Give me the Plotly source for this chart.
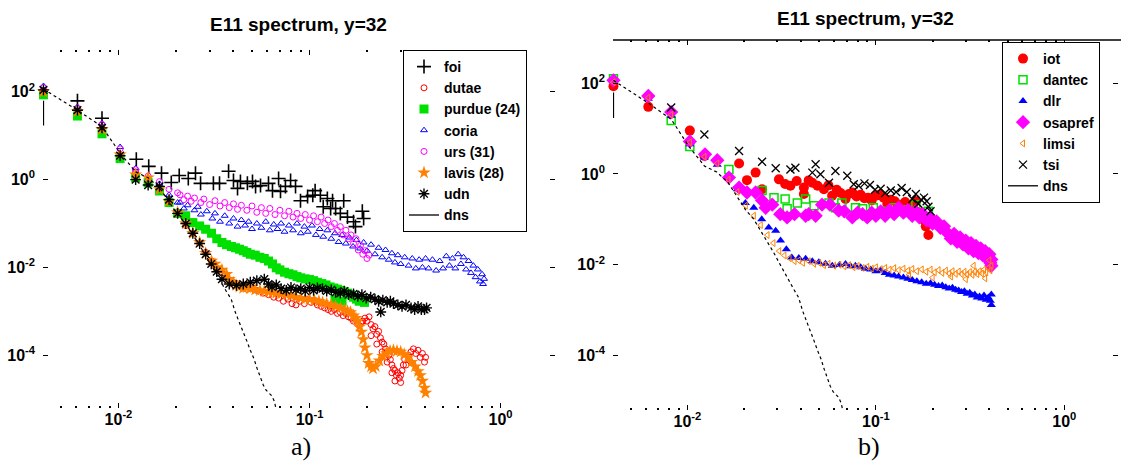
import plotly.graph_objects as go

# ---------------- left panel (a) ----------------
foi_k = [0.0061, 0.0082, 0.0124, 0.0144, 0.0168, 0.0189, 0.0208, 0.0232, 0.0253, 0.0269, 0.0314, 0.0338,
         0.0377, 0.0400, 0.0420, 0.0435, 0.0473, 0.0503, 0.0522, 0.0554, 0.0610, 0.0640, 0.0689, 0.0705,
         0.0748, 0.0796, 0.0845, 0.0897, 0.0977, 0.104, 0.107, 0.114, 0.118, 0.124, 0.129, 0.132, 0.137,
         0.145, 0.151, 0.158, 0.170, 0.174, 0.189, 0.192]
foi_E = [62, 25, 2.9, 2.0, 1.4, 0.86, 1.24, 1.06, 1.4, 0.82, 0.82, 0.82,
         1.55, 0.95, 0.63, 0.91, 0.82, 0.91, 0.70, 0.73, 0.82, 0.56, 1.06, 0.54,
         0.70, 0.95, 0.70, 0.33, 0.41, 0.44, 0.56, 0.44, 0.24, 0.37, 0.22, 0.33, 0.22,
         0.17, 0.33, 0.14, 0.11, 0.085, 0.19, 0.13]
bar_k = [0.00405, 0.00405]
bar_E = [62, 17]

dutae_k = [0.00405, 0.0061, 0.0082, 0.0102, 0.0123, 0.0143, 0.0164, 0.0184, 0.0204, 0.0225, 0.0245, 0.0266,
           0.0286, 0.0307, 0.0327, 0.0348, 0.0368, 0.039, 0.041, 0.045, 0.049, 0.053, 0.057, 0.061, 0.065,
           0.069, 0.073, 0.077, 0.081, 0.085, 0.089, 0.094, 0.098, 0.102, 0.106, 0.110, 0.115, 0.12, 0.125,
           0.13, 0.135, 0.14, 0.145, 0.15, 0.155, 0.16, 0.165, 0.17, 0.175, 0.18, 0.185, 0.19, 0.195, 0.20,
           0.205, 0.21, 0.215, 0.22, 0.225, 0.23, 0.235, 0.24, 0.245, 0.25, 0.255, 0.26, 0.265, 0.27, 0.275,
           0.28, 0.285, 0.29, 0.295, 0.30, 0.305, 0.31, 0.315, 0.32, 0.33, 0.34, 0.35, 0.36, 0.37, 0.38,
           0.39, 0.40, 0.405, 0.21, 0.225, 0.24, 0.255, 0.27, 0.28, 0.30]
dutae_E = [108, 33, 15, 3.6, 1.5, 0.95, 0.55, 0.3, 0.16, 0.09, 0.06, 0.036,
           0.022, 0.014, 0.0095, 0.0075, 0.0058, 0.005, 0.0044, 0.0040, 0.0034, 0.0030, 0.0026, 0.0024, 0.0021,
           0.0020, 0.0017, 0.0019, 0.0015, 0.0014, 0.0017, 0.0015, 0.0019, 0.0016, 0.0018, 0.0014, 0.0013, 0.0012, 0.0011,
           0.0010, 0.0011, 0.0009, 0.00095, 0.0008, 0.0009, 0.00075, 0.0007, 0.0006, 0.00065, 0.0005, 0.00055, 0.0006, 0.0007, 0.0006,
           0.00075, 0.0005, 0.0004, 0.00045, 0.0003, 0.00035, 0.00025, 0.0002, 0.00018, 0.00014, 0.00012, 0.0001, 8e-5, 6e-5, 5e-5,
           4.5e-5, 3.5e-5, 4e-5, 3e-5, 3.5e-5, 4.5e-5, 6e-5, 8e-5, 6e-5, 1e-4, 1.2e-4, 1.4e-4, 1.1e-4, 1.3e-4, 9e-5,
           1.1e-4, 7e-5, 9e-5, 0.00028, 0.00018, 0.00012, 7e-5, 4e-5, 2.6e-5, 2.4e-5]

purdue_k = [0.00405, 0.0061, 0.0082, 0.0102, 0.0123, 0.0143, 0.0164, 0.0184, 0.0204, 0.0225, 0.0245, 0.0266,
            0.0286, 0.0307, 0.0327, 0.0348, 0.0368, 0.039, 0.041, 0.043, 0.045, 0.047, 0.049, 0.052, 0.055,
            0.058, 0.061, 0.064, 0.067, 0.070, 0.074, 0.078, 0.082, 0.086, 0.090, 0.095, 0.100, 0.105, 0.110,
            0.116, 0.122, 0.128, 0.134, 0.140, 0.146, 0.152, 0.158, 0.164, 0.170, 0.176, 0.182, 0.188, 0.194,
            0.136, 0.148]
purdue_E = [85, 28, 11, 3.0, 1.1, 0.85, 0.55, 0.3, 0.17, 0.15, 0.105, 0.088,
            0.074, 0.06, 0.045, 0.037, 0.033, 0.03, 0.028, 0.026, 0.024, 0.022, 0.02, 0.019, 0.017,
            0.016, 0.014, 0.012, 0.0098, 0.0088, 0.0078, 0.0072, 0.0068, 0.0062, 0.0058, 0.0055, 0.0053, 0.0050, 0.0046,
            0.0043, 0.0040, 0.0036, 0.0034, 0.0032, 0.0030, 0.0028, 0.0026, 0.0024, 0.0021, 0.0019, 0.0017, 0.0018, 0.0016,
            0.0019, 0.0017]

coria_k = [0.00405, 0.0061, 0.0082, 0.0102, 0.0123, 0.0143, 0.0164, 0.0184, 0.0204,
           0.021, 0.022, 0.023, 0.025, 0.026, 0.027, 0.029, 0.031, 0.032, 0.034, 0.036, 0.038, 0.040, 0.042,
           0.044, 0.046, 0.048, 0.050, 0.053, 0.056, 0.059, 0.062, 0.065, 0.068, 0.071, 0.074, 0.078, 0.082,
           0.086, 0.09, 0.094, 0.098, 0.103, 0.108, 0.113, 0.118, 0.124, 0.13, 0.136, 0.142, 0.148, 0.155,
           0.162, 0.169, 0.176, 0.184, 0.192, 0.2, 0.21, 0.22, 0.23, 0.24, 0.25, 0.26, 0.27, 0.28, 0.29, 0.30,
           0.315, 0.33, 0.345, 0.36, 0.375, 0.39, 0.405, 0.42, 0.44, 0.46, 0.48, 0.50, 0.52, 0.54, 0.56, 0.58,
           0.60, 0.62, 0.64, 0.66, 0.68, 0.70, 0.72, 0.74, 0.76, 0.78, 0.80, 0.81, 0.82]
coria_E = [135, 45, 19, 5.5, 1.8, 1.0, 0.8, 0.45, 0.3,
           0.3, 0.22, 0.26, 0.2, 0.24, 0.16, 0.19, 0.13, 0.17, 0.11, 0.15, 0.1, 0.13, 0.085,
           0.12, 0.09, 0.11, 0.075, 0.1, 0.08, 0.11, 0.07, 0.095, 0.075, 0.1, 0.065, 0.09, 0.07,
           0.1, 0.06, 0.085, 0.065, 0.09, 0.055, 0.075, 0.05, 0.07, 0.045, 0.06, 0.038, 0.055, 0.035,
           0.048, 0.03, 0.042, 0.027, 0.037, 0.024, 0.033, 0.02, 0.028, 0.017, 0.025, 0.015, 0.021, 0.013, 0.019, 0.012,
           0.017, 0.011, 0.016, 0.0095, 0.015, 0.01, 0.016, 0.0095, 0.015, 0.0085, 0.014, 0.0095, 0.018, 0.011, 0.016, 0.0095,
           0.02, 0.012, 0.017, 0.009, 0.014, 0.0075, 0.011, 0.006, 0.009, 0.0048, 0.007, 0.0042, 0.0055]

urs_k = [0.00405, 0.0061, 0.0082, 0.0102, 0.0123, 0.0143, 0.0164, 0.0184, 0.0204,
         0.021, 0.022, 0.023, 0.024, 0.025, 0.027, 0.028, 0.030, 0.032, 0.034, 0.036, 0.038, 0.040, 0.042,
         0.044, 0.047, 0.05, 0.053, 0.056, 0.059, 0.062, 0.066, 0.07, 0.074, 0.078, 0.082, 0.086, 0.09,
         0.095, 0.1, 0.105, 0.11, 0.115, 0.12, 0.125, 0.13, 0.135, 0.14, 0.145, 0.15, 0.155, 0.16, 0.165,
         0.17, 0.175, 0.18, 0.185, 0.19, 0.195, 0.2, 0.205]
urs_E = [125, 42, 18, 5.0, 1.7, 1.2, 0.9, 0.6, 0.5,
         0.45, 0.35, 0.42, 0.32, 0.38, 0.3, 0.36, 0.27, 0.33, 0.25, 0.3, 0.23, 0.28, 0.21,
         0.26, 0.2, 0.25, 0.18, 0.23, 0.17, 0.22, 0.16, 0.2, 0.15, 0.19, 0.14, 0.17, 0.13,
         0.16, 0.12, 0.15, 0.11, 0.14, 0.1, 0.12, 0.085, 0.1, 0.07, 0.085, 0.055, 0.07, 0.045, 0.055,
         0.035, 0.045, 0.025, 0.032, 0.02, 0.024, 0.016, 0.019]

lavis_k = [0.00405, 0.0061, 0.0082, 0.0102, 0.0123, 0.0143, 0.0164, 0.0184, 0.0204, 0.0225, 0.0245, 0.0266,
           0.0286, 0.0307, 0.032, 0.0327, 0.0348, 0.0368, 0.038, 0.040, 0.0414, 0.043, 0.045, 0.047, 0.049,
           0.052, 0.055, 0.058, 0.061, 0.064, 0.067, 0.071, 0.0756, 0.08, 0.085, 0.09, 0.095, 0.1, 0.106,
           0.112, 0.117, 0.123, 0.13, 0.137, 0.145, 0.152, 0.158, 0.164, 0.17, 0.175, 0.179, 0.183, 0.187,
           0.191, 0.195, 0.2, 0.204, 0.21, 0.215, 0.222, 0.232, 0.242, 0.253, 0.264, 0.275, 0.287, 0.3,
           0.313, 0.327, 0.342, 0.357, 0.37, 0.38, 0.39, 0.4, 0.405]
lavis_E = [100, 36, 14, 3.7, 1.3, 1.1, 0.6, 0.32, 0.18, 0.1, 0.06, 0.037,
           0.021, 0.014, 0.012, 0.01, 0.0088, 0.007, 0.0054, 0.0045, 0.0039, 0.0036, 0.0034, 0.0035, 0.0033,
           0.0031, 0.0030, 0.0029, 0.0028, 0.0027, 0.0026, 0.0025, 0.0024, 0.0023, 0.0021, 0.0020, 0.0019, 0.0019, 0.0018,
           0.0017, 0.0016, 0.0015, 0.0014, 0.0013, 0.0012, 0.0011, 0.001, 0.00095, 0.0008, 0.0007, 0.0006, 0.00045, 0.00034,
           0.00023, 0.00015, 0.0001, 6.6e-5, 5.5e-5, 5e-5, 5.6e-5, 7.5e-5, 9.5e-5, 1.1e-4, 1.25e-4, 1.3e-4, 1.25e-4, 1.2e-4,
           1.05e-4, 9e-5, 7e-5, 5.5e-5, 4.3e-5, 3.5e-5, 2.6e-5, 1.8e-5, 1.4e-5]

udn_k = [0.00405, 0.0061, 0.0082, 0.0102, 0.0123, 0.0143, 0.0164, 0.0184, 0.0204, 0.0225, 0.0245, 0.0266,
         0.0286, 0.0306, 0.0327, 0.0348, 0.038, 0.0414, 0.045, 0.049, 0.053, 0.058, 0.061, 0.0636, 0.067,
         0.071, 0.0756, 0.08, 0.085, 0.09, 0.095, 0.1, 0.105, 0.11, 0.117, 0.123, 0.13, 0.137, 0.145, 0.152,
         0.16, 0.17, 0.179, 0.188, 0.198, 0.209, 0.22, 0.23, 0.236, 0.242, 0.255, 0.265, 0.275, 0.29, 0.305,
         0.32, 0.34, 0.355, 0.37, 0.385, 0.4, 0.41]
udn_E = [110, 38, 15, 3.5, 1.0, 0.75, 0.7, 0.35, 0.17, 0.1, 0.06, 0.035,
         0.02, 0.012, 0.008, 0.0054, 0.0042, 0.0039, 0.0042, 0.0046, 0.005, 0.0054, 0.0042, 0.0036, 0.0040,
         0.0033, 0.003, 0.0035, 0.0031, 0.0033, 0.0029, 0.0035, 0.003, 0.0034, 0.0033, 0.0029, 0.0031, 0.0027, 0.0026, 0.0029,
         0.0024, 0.0025, 0.0022, 0.0024, 0.002, 0.0021, 0.0019, 0.0017, 0.00097, 0.0018, 0.0016, 0.0017, 0.0015, 0.0014, 0.0013,
         0.0014, 0.0012, 0.0011, 0.0013, 0.0011, 0.0011, 0.0012]

# reference DNS spectrum (shared by both panels)
dns_k = [0.00405, 0.0061, 0.0082, 0.0102, 0.0123, 0.0143, 0.0164, 0.0184, 0.0204, 0.0225, 0.0245, 0.0266,
         0.0286, 0.0307, 0.0327, 0.0348, 0.0368, 0.0389, 0.0409, 0.043, 0.045, 0.047, 0.049, 0.0511, 0.0532,
         0.0552, 0.0573, 0.0593, 0.0614, 0.0634, 0.0654, 0.0675]
dns_E = [115, 38, 16, 4.0, 1.5, 1.1, 0.65, 0.32, 0.16, 0.10, 0.055, 0.033,
         0.019, 0.011, 0.0068, 0.0040, 0.0028, 0.0019, 0.00095, 0.00055, 0.00035, 0.00021, 0.00013, 8.5e-5, 5e-5,
         3.2e-5, 2.1e-5, 1.6e-5, 1.4e-5, 1.2e-5, 9e-6, 5e-6]

# ---------------- right panel (b) ----------------
iot_k = [0.00405, 0.0062, 0.0103, 0.0123, 0.0188, 0.0207, 0.023, 0.0249, 0.0306, 0.033, 0.0352, 0.038, 0.0415,
         0.0415, 0.044, 0.046, 0.049, 0.053, 0.056, 0.0586, 0.062, 0.065, 0.069, 0.072, 0.075, 0.079, 0.083,
         0.087, 0.091, 0.095, 0.1, 0.105, 0.11, 0.115, 0.12, 0.126, 0.131, 0.137, 0.143, 0.15, 0.157, 0.163,
         0.17, 0.177, 0.184, 0.19]
iot_E = [85, 30, 9.0, 2.5, 1.7, 0.73, 1.07, 0.46, 0.76, 0.6, 0.55, 0.7, 0.5,
         0.36, 0.72, 0.64, 0.55, 0.46, 0.56, 0.33, 0.45, 0.38, 0.28, 0.36, 0.39, 0.32, 0.35,
         0.29, 0.3, 0.26, 0.33, 0.35, 0.3, 0.22, 0.27, 0.25, 0.2, 0.21, 0.24, 0.18, 0.22, 0.25,
         0.14, 0.1, 0.07, 0.045]

dantec_k = [0.00405, 0.0082, 0.0103, 0.0166, 0.0249, 0.0288, 0.033, 0.0338, 0.0383, 0.0424, 0.047, 0.0564,
            0.061, 0.066, 0.078, 0.085, 0.097, 0.11, 0.126, 0.14, 0.163, 0.178, 0.19]
dantec_E = [125, 15, 4.0, 1.25, 0.43, 0.30, 0.28, 0.17, 0.23, 0.28, 0.2, 0.23,
            0.18, 0.23, 0.18, 0.17, 0.18, 0.15, 0.18, 0.16, 0.21, 0.11, 0.15]

dlr_k = [0.00405, 0.0062, 0.0082, 0.0103, 0.0123, 0.0144, 0.0165, 0.0184, 0.0203, 0.0225, 0.0248, 0.027,
         0.0294, 0.0312, 0.0335, 0.0358, 0.039, 0.0424, 0.046, 0.0498, 0.054, 0.0587, 0.064, 0.069, 0.0735,
         0.0778, 0.083, 0.088, 0.094, 0.1, 0.106, 0.112, 0.118, 0.125, 0.132, 0.14, 0.148, 0.156, 0.165,
         0.175, 0.185, 0.195, 0.205, 0.215, 0.225, 0.235, 0.245, 0.255, 0.265, 0.275, 0.285, 0.295, 0.305,
         0.315, 0.325, 0.335, 0.345, 0.355, 0.365, 0.375, 0.385, 0.395, 0.405, 0.41, 0.41]
dlr_E = [115, 45, 19, 4.5, 2.3, 1.6, 0.9, 0.46, 0.23, 0.18, 0.1, 0.066,
         0.056, 0.034, 0.022, 0.0145, 0.014, 0.0135, 0.012, 0.0113, 0.0105, 0.0095, 0.0098, 0.0104, 0.0092,
         0.0095, 0.0088, 0.0082, 0.0078, 0.0072, 0.0075, 0.0066, 0.006, 0.0058, 0.0055, 0.0052, 0.0049, 0.0046, 0.0043,
         0.0041, 0.0038, 0.0039, 0.0036, 0.0034, 0.0035, 0.0032, 0.003, 0.0031, 0.0028, 0.0027, 0.0025, 0.0026, 0.0023,
         0.0024, 0.0021, 0.0022, 0.0019, 0.002, 0.0018, 0.0021, 0.0017, 0.0019, 0.0016, 0.0022, 0.0013]

osapref_k = [0.00405, 0.0062, 0.0082, 0.0103, 0.0124, 0.0144, 0.0166, 0.0188, 0.0207, 0.023, 0.0249, 0.026,
             0.0282, 0.0311, 0.0338, 0.037, 0.0424, 0.044, 0.0479, 0.0518, 0.057, 0.0635, 0.068, 0.075, 0.08,
             0.085, 0.09, 0.095, 0.1, 0.106, 0.112, 0.118, 0.125, 0.132, 0.14, 0.148, 0.156, 0.163, 0.17,
             0.178, 0.186, 0.194, 0.2, 0.21, 0.22, 0.23, 0.24, 0.25, 0.26, 0.27, 0.28, 0.29, 0.3, 0.31,
             0.32, 0.33, 0.34, 0.35, 0.36, 0.37, 0.38, 0.39, 0.4, 0.405, 0.41, 0.41]
osapref_E = [115, 52, 23, 5.2, 2.7, 2.0, 0.83, 0.5, 0.39, 0.39, 0.26, 0.18,
             0.21, 0.13, 0.11, 0.13, 0.12, 0.13, 0.12, 0.21, 0.21, 0.155, 0.15, 0.11, 0.14,
             0.13, 0.11, 0.14, 0.12, 0.15, 0.12, 0.16, 0.13, 0.18, 0.14, 0.16, 0.12, 0.15, 0.11,
             0.13, 0.095, 0.11, 0.08, 0.09, 0.065, 0.07, 0.05, 0.038, 0.048, 0.032, 0.04, 0.028, 0.034, 0.023,
             0.03, 0.02, 0.026, 0.018, 0.023, 0.016, 0.02, 0.014, 0.017, 0.011, 0.013, 0.0095]

limsi_k = [0.00405, 0.0062, 0.0082, 0.0103, 0.0123, 0.0144, 0.0165, 0.0184, 0.0204, 0.0225, 0.0245, 0.0266,
           0.0286, 0.0307, 0.0327, 0.0348, 0.037, 0.039, 0.041, 0.044, 0.047, 0.05, 0.053, 0.056, 0.06,
           0.064, 0.068, 0.072, 0.076, 0.08, 0.085, 0.09, 0.095, 0.1, 0.106, 0.112, 0.118, 0.125, 0.132,
           0.14, 0.148, 0.156, 0.165, 0.175, 0.185, 0.195, 0.205, 0.215, 0.225, 0.235, 0.245, 0.255, 0.265,
           0.275, 0.285, 0.295, 0.305, 0.315, 0.325, 0.335, 0.345, 0.355, 0.365, 0.375, 0.385, 0.395, 0.405,
           0.41, 0.15, 0.2, 0.25, 0.3, 0.38, 0.33, 0.4]
limsi_E = [105, 48, 20, 5.0, 2.4, 1.7, 0.75, 0.4, 0.2, 0.12, 0.075, 0.045,
           0.03, 0.02, 0.016, 0.014, 0.012, 0.0125, 0.011, 0.012, 0.0105, 0.011, 0.0098, 0.0105, 0.0095,
           0.01, 0.0092, 0.0098, 0.0088, 0.0094, 0.0085, 0.009, 0.0082, 0.0088, 0.008, 0.0085, 0.0078, 0.0084, 0.0076,
           0.0082, 0.0074, 0.0081, 0.0072, 0.0079, 0.007, 0.0078, 0.0068, 0.0076, 0.0066, 0.0074, 0.0064, 0.0072, 0.0063,
           0.0071, 0.0062, 0.007, 0.0061, 0.0069, 0.006, 0.007, 0.0062, 0.0072, 0.0064, 0.0078, 0.0068, 0.0085, 0.0075,
           0.0095, 0.006, 0.0052, 0.0055, 0.0048, 0.005, 0.0095, 0.0125]

tsi_k = [0.0082, 0.0123, 0.0188, 0.0249, 0.0294, 0.0352, 0.0374, 0.046, 0.0479, 0.0508, 0.0564, 0.061,
         0.0705, 0.0763, 0.081, 0.087, 0.093, 0.099, 0.106, 0.112, 0.12, 0.128, 0.137, 0.146, 0.156, 0.163,
         0.168, 0.174, 0.18, 0.186, 0.19, 0.195]
tsi_E = [29, 7.4, 3.2, 1.86, 1.33, 1.25, 1.37, 1.07, 1.63, 0.98, 0.64, 1.16,
         0.91, 0.59, 0.55, 0.62, 0.57, 0.45, 0.47, 0.38, 0.43, 0.40, 0.49, 0.40, 0.28, 0.36,
         0.22, 0.27, 0.3, 0.25, 0.19, 0.15]

# axis labelling
x_tickvals = [1e-2, 1e-1, 1e0]
x_ticktext = ["10<sup>-2</sup>", "10<sup>-1</sup>", "10<sup>0</sup>"]
x_minorvals = [0.005, 0.006, 0.007, 0.008, 0.009, 0.02, 0.03, 0.04, 0.05, 0.06, 0.07, 0.08, 0.09,
               0.2, 0.3, 0.4, 0.5, 0.6, 0.7, 0.8, 0.9]
y_tickvals = [1e-4, 1e-2, 1e0, 1e2]
y_ticktext = ["10<sup>-4</sup>", "10<sup>-2</sup>", "10<sup>0</sup>", "10<sup>2</sup>"]
panel_title = "E11 spectrum, y=32"

RED = "#ff0000"
GREEN = "#00e000"
BLUE = "#0000ff"
MAGENTA = "#ff00ff"
ORANGE = "#ff8000"
BLACK = "#000000"

fig = go.Figure()


def add_markers(k, E, name, symbol, size, color, axis, legend, lw=1.0):
    mk = dict(symbol=symbol, size=size, color=color, line=dict(color=color, width=lw))
    fig.add_trace(go.Scatter(x=k, y=E, mode="markers", name=name, marker=mk,
                             xaxis="x" + axis, yaxis="y" + axis, legend=legend,
                             cliponaxis=False))


def add_dns(axis, legend):
    # dotted reference curve + vertical marker at the lowest wavenumber
    fig.add_trace(go.Scatter(x=dns_k, y=dns_E, mode="lines", line=dict(color=BLACK, width=1.2, dash="dot"),
                             showlegend=False, xaxis="x" + axis, yaxis="y" + axis))
    fig.add_trace(go.Scatter(x=bar_k, y=bar_E, mode="lines", line=dict(color=BLACK, width=1.3),
                             showlegend=False, xaxis="x" + axis, yaxis="y" + axis))
    fig.add_trace(go.Scatter(x=[None], y=[None], mode="lines", name="dns",
                             line=dict(color=BLACK, width=1.3),
                             xaxis="x" + axis, yaxis="y" + axis, legend=legend))


# left panel traces
add_markers(foi_k, foi_E, "foi", "cross-thin", 10, BLACK, "", "legend", lw=1.6)
add_markers(dutae_k, dutae_E, "dutae", "circle-open", 6, RED, "", "legend", lw=1.0)
add_markers(purdue_k, purdue_E, "purdue (24)", "square", 9, GREEN, "", "legend", lw=0)
add_markers(coria_k, coria_E, "coria", "triangle-up-open", 6, BLUE, "", "legend", lw=1.0)
add_markers(urs_k, urs_E, "urs (31)", "circle-open", 6, MAGENTA, "", "legend", lw=1.0)
add_markers(lavis_k, lavis_E, "lavis (28)", "star", 10, ORANGE, "", "legend", lw=0)
add_markers(udn_k, udn_E, "udn", "asterisk", 9, BLACK, "", "legend", lw=1.4)
add_dns("", "legend")

# right panel traces
add_markers(iot_k, iot_E, "iot", "circle", 10, RED, "2", "legend2", lw=0)
add_markers(dantec_k, dantec_E, "dantec", "square-open", 8, GREEN, "2", "legend2", lw=1.5)
add_markers(dlr_k, dlr_E, "dlr", "triangle-up", 8, BLUE, "2", "legend2", lw=0)
add_markers(osapref_k, osapref_E, "osapref", "diamond", 11, MAGENTA, "2", "legend2", lw=0)
add_markers(limsi_k, limsi_E, "limsi", "triangle-left-open", 6, ORANGE, "2", "legend2", lw=1.0)
add_markers(tsi_k, tsi_E, "tsi", "x-thin", 8, BLACK, "2", "legend2", lw=1.3)
add_dns("2", "legend2")

FONT = "Liberation Sans, Arial, sans-serif"
SERIF = "Liberation Serif, Times New Roman, serif"
tick_font = dict(family=FONT, size=16, color=BLACK, weight="bold")

xcommon = dict(type="log", range=[-2.395, 0.285], tickvals=x_tickvals, ticktext=x_ticktext,
               ticks="inside", ticklen=5, tickwidth=1.2, tickcolor=BLACK, mirror="ticks",
               showline=False, showgrid=False, zeroline=False, tickfont=tick_font,
               minor=dict(tickvals=x_minorvals, ticks="inside", ticklen=2, tickwidth=1.5, tickcolor=BLACK))
ycommon = dict(type="log", range=[-5.2, 2.95], tickvals=y_tickvals, ticktext=y_ticktext,
               ticks="inside", ticklen=5, tickwidth=1.2, tickcolor=BLACK, mirror="ticks",
               showline=False, showgrid=False, zeroline=False, tickfont=tick_font, ticklabelstandoff=7)

W, H = 1121, 467
legend_common = dict(bgcolor="white", bordercolor=BLACK, borderwidth=1,
                     font=dict(family=FONT, size=14, color=BLACK, weight="bold"),
                     xanchor="left", yanchor="top", tracegroupgap=0, itemsizing="trace")

title_font = dict(family=FONT, size=19, color=BLACK, weight="bold")

fig.update_layout(
    width=W, height=H, margin=dict(l=0, r=0, t=0, b=0),
    paper_bgcolor="white", plot_bgcolor="white",
    xaxis=dict(domain=[43 / W, 555 / W], anchor="y", **xcommon),
    yaxis=dict(domain=[1 - 408 / H, 1 - 50 / H], anchor="x", **ycommon),
    xaxis2=dict(domain=[613 / W, 1118 / W], anchor="y2", **xcommon),
    yaxis2=dict(domain=[1 - 410 / H, 1 - 40 / H], anchor="x2", **ycommon),
    legend=dict(x=403 / W, y=1 - 50 / H, **legend_common),
    legend2=dict(x=1002 / W, y=1 - 42 / H, **legend_common),
    showlegend=True,
    annotations=[
        dict(text=panel_title, x=298 / W, y=1 - 25 / H, xref="paper", yref="paper", showarrow=False,
             xanchor="center", yanchor="middle", font=title_font),
        dict(text=panel_title, x=865 / W, y=1 - 19 / H, xref="paper", yref="paper", showarrow=False,
             xanchor="center", yanchor="middle", font=title_font),
        dict(text="a)", x=301 / W, y=1 - 446 / H, xref="paper", yref="paper", showarrow=False,
             xanchor="center", yanchor="middle", font=dict(family=SERIF, size=26, color=BLACK)),
        dict(text="b)", x=869 / W, y=1 - 446 / H, xref="paper", yref="paper", showarrow=False,
             xanchor="center", yanchor="middle", font=dict(family=SERIF, size=26, color=BLACK)),
    ],
    shapes=[
        # top frame line of the right panel
        dict(type="line", xref="x2 domain", yref="y2 domain", x0=0, x1=1.01, y0=1, y1=1,
             line=dict(color=BLACK, width=1.5)),
    ],
)

fig.write_html("out.html")
